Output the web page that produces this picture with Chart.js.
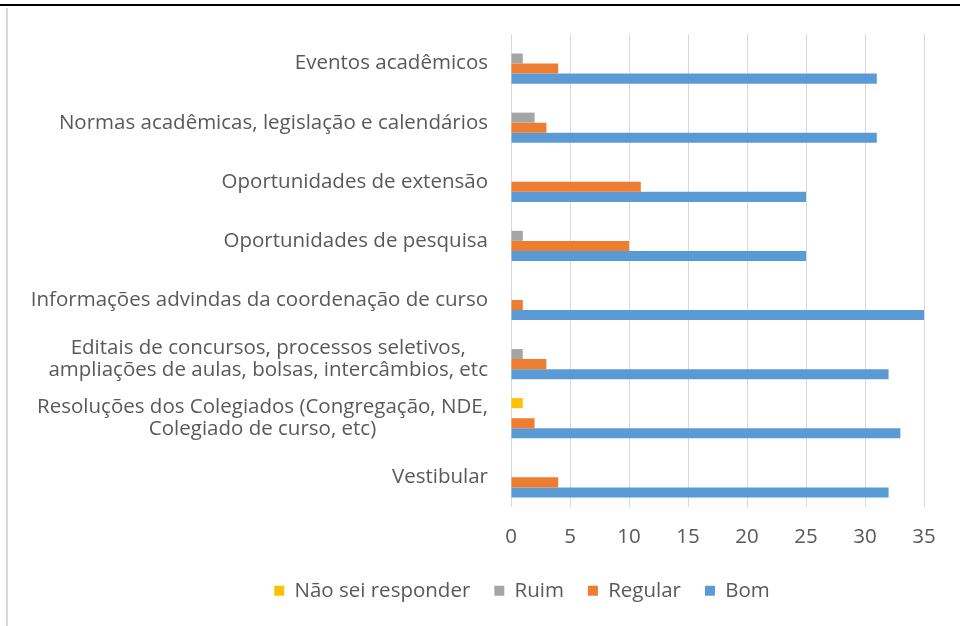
<!DOCTYPE html>
<html>
<head>
<meta charset="utf-8">
<script src="https://cdn.jsdelivr.net/npm/chart.js@4/dist/chart.umd.min.js"></script>
<style>
   body { margin: 0; background: #fff; }
   #wrap { position: relative; width: 960px; height: 626px; }
   #lineTop { position: absolute; left: 0; top: 4px; width: 960px; height: 2px; background: #000; }
   #lineLeft { position: absolute; left: 6px; top: 8px; width: 2px; height: 618px; background: #d9d9d9; }
   canvas { position: absolute; left: 0; top: 0; }
</style>
</head>
<body>
<div id="wrap">
   <canvas id="graphique" width="960" height="626"></canvas>
   <div id="lineTop"></div>
   <div id="lineLeft"></div>
</div>
<script>
// Categories, de haut en bas
const categories = [
   ['Eventos acadêmicos'],
   ['Normas acadêmicas, legislação e calendários'],
   ['Oportunidades de extensão'],
   ['Oportunidades de pesquisa'],
   ['Informações advindas da coordenação de curso'],
   ['Editais de concursos, processos seletivos,', 'ampliações de aulas, bolsas, intercâmbios, etc'],
   ['Resoluções dos Colegiados (Congregação, NDE,', 'Colegiado de curso, etc)'],
   ['Vestibular']
];

const naoSeiValues = [0, 0, 0, 0, 0, 0, 1, 0];
const ruimValues = [1, 2, 0, 1, 0, 1, 0, 0];
const regularValues = [4, 3, 11, 10, 1, 3, 2, 4];
const bomValues = [31, 31, 25, 25, 35, 32, 33, 32];

const xTicks = [0, 5, 10, 15, 20, 25, 30, 35];

const couleurs = ['#FFC000', '#A5A5A5', '#ED7D31', '#5B9BD5'];
const texteCouleur = '#595959';
const police = "'Open Sans', sans-serif";
const taillePolice = 20.5;

// Etiquettes de l'axe Y : centrées ligne par ligne, alignées à droite sur le bloc
const etiquettesPlugin = {
   id: 'etiquettes',
   afterDraw(chart) {
      const ctx = chart.ctx;
      const yScale = chart.scales.y;
      const droite = yScale.right - 23;
      const hauteurLigne = 22;
      ctx.save();
      ctx.font = `${taillePolice}px ${police}`;
      ctx.fillStyle = texteCouleur;
      ctx.textAlign = 'center';
      ctx.textBaseline = 'middle';
      categories.forEach((lignes, i) => {
         const largeur = Math.max(...lignes.map(l => ctx.measureText(l).width));
         const cx = droite - largeur / 2;
         const cy = yScale.getPixelForValue(i);
         const debut = cy - (lignes.length - 1) * hauteurLigne / 2;
         lignes.forEach((l, j) => ctx.fillText(l, cx, debut + j * hauteurLigne));
      });
      ctx.restore();
   }
};

const margeGauche = 120;

new Chart(
   document.getElementById('graphique'),
   {
      type: 'bar',
      data: {
         labels: categories.map(c => c.join(' ')),
         datasets: [
            { label: 'Não sei responder', data: naoSeiValues, backgroundColor: couleurs[0] },
            { label: 'Ruim', data: ruimValues, backgroundColor: couleurs[1] },
            { label: 'Regular', data: regularValues, backgroundColor: couleurs[2] },
            { label: 'Bom', data: bomValues, backgroundColor: couleurs[3] }
         ]
      },
      options: {
         indexAxis: 'y',
         responsive: false,
         animation: false,
         categoryPercentage: 0.68,
         barPercentage: 1,
         layout: {
            padding: { left: margeGauche, right: 36, top: 34, bottom: 15 }
         },
         scales: {
            x: {
               min: 0,
               max: 35,
               afterBuildTicks: function(scale) {
                  scale.ticks = xTicks.map(v => ({ value: v }));
               },
               afterFit: function(scale) {
                  scale.height = scale.height - 11;
               },
               ticks: {
                  color: texteCouleur,
                  font: { family: police, size: taillePolice },
                  padding: 18
               },
               grid: {
                  color: '#D9D9D9',
                  lineWidth: 1,
                  drawTicks: false
               },
               border: { display: false }
            },
            y: {
               afterFit: function(scale) {
                  scale.width = 511 - margeGauche; // bord gauche de la zone du graphique
               },
               ticks: { display: false },
               grid: { display: false },
               border: { color: '#D9D9D9' }
            }
         },
         plugins: {
            legend: {
               position: 'bottom',
               labels: {
                  color: texteCouleur,
                  font: { family: police, size: taillePolice },
                  boxWidth: 10,
                  boxHeight: 10,
                  padding: 24
               }
            },
            tooltip: { enabled: false }
         }
      },
      plugins: [etiquettesPlugin]
   }
);
</script>
</body>
</html>
